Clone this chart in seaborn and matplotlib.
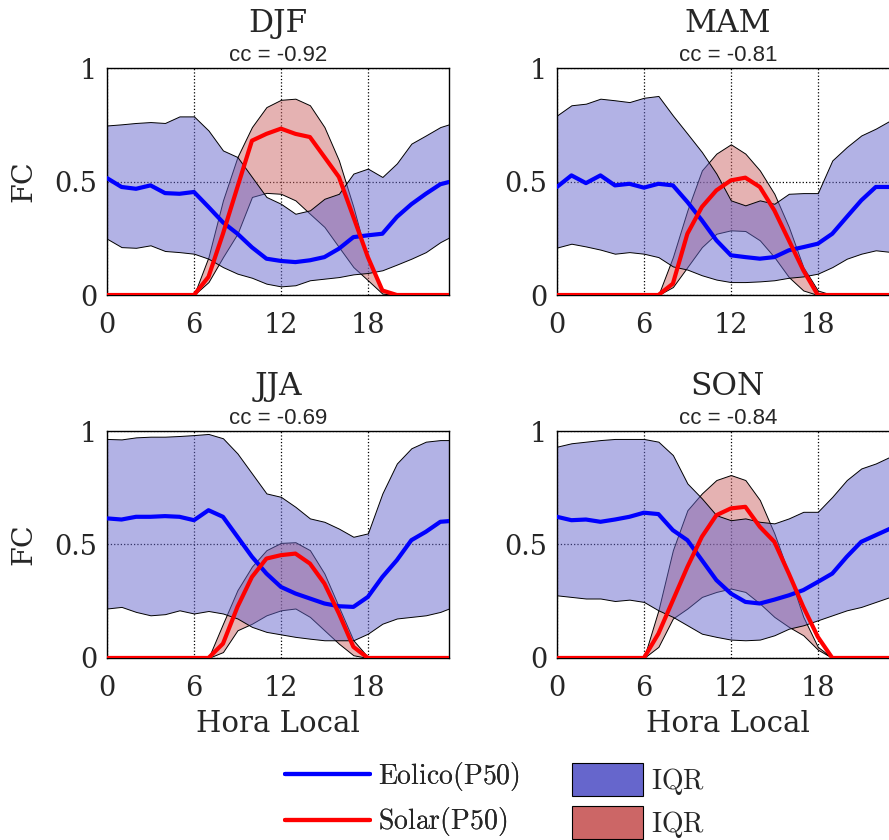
import numpy as np
import pandas as pd
import matplotlib
matplotlib.use("Agg")
import matplotlib.pyplot as plt
import seaborn as sns
from matplotlib.colors import to_rgba
from matplotlib.lines import Line2D
from matplotlib.patches import Patch

# hora local (0..23 + final point)
HORAS = [0, 1, 2, 3, 4, 5, 6, 7, 8, 9, 10, 11, 12, 13, 14, 15, 16, 17, 18, 19, 20, 21, 22, 23, 23.6]

SEASONS = ["DJF", "MAM", "JJA", "SON"]
CC = ["-0.92", "-0.81", "-0.69", "-0.84"]

# Eolico: P50, P25, P75
EOL_P50 = {
    "DJF": [0.515, 0.476, 0.468, 0.483, 0.449, 0.446, 0.454, 0.388, 0.32, 0.27, 0.21, 0.16, 0.15, 0.145,
            0.153, 0.167, 0.204, 0.255, 0.263, 0.27, 0.344, 0.40, 0.446, 0.488, 0.498],
    "MAM": [0.476, 0.527, 0.493, 0.527, 0.483, 0.49, 0.473, 0.49, 0.483, 0.41, 0.329, 0.241, 0.175, 0.167,
            0.16, 0.167, 0.197, 0.211, 0.226, 0.27, 0.344, 0.417, 0.476, 0.476, 0.48],
    "JJA": [0.615, 0.61, 0.622, 0.622, 0.625, 0.622, 0.607, 0.651, 0.622, 0.534, 0.446, 0.372, 0.313, 0.284,
            0.262, 0.24, 0.228, 0.225, 0.269, 0.357, 0.431, 0.519, 0.556, 0.60, 0.603],
    "SON": [0.622, 0.607, 0.61, 0.60, 0.61, 0.622, 0.64, 0.634, 0.563, 0.519, 0.431, 0.343, 0.284, 0.247,
            0.24, 0.257, 0.276, 0.299, 0.335, 0.372, 0.446, 0.512, 0.541, 0.57, 0.58],
}
EOL_P25 = {
    "DJF": [0.248, 0.211, 0.208, 0.219, 0.194, 0.189, 0.182, 0.16, 0.123, 0.094, 0.076, 0.05, 0.038, 0.043,
            0.065, 0.072, 0.079, 0.091, 0.097, 0.109, 0.134, 0.16, 0.189, 0.233, 0.253],
    "MAM": [0.209, 0.226, 0.214, 0.20, 0.182, 0.189, 0.182, 0.167, 0.126, 0.112, 0.087, 0.068, 0.057, 0.057,
            0.06, 0.065, 0.076, 0.082, 0.094, 0.123, 0.16, 0.182, 0.197, 0.19, 0.19],
    "JJA": [0.218, 0.225, 0.203, 0.188, 0.193, 0.21, 0.196, 0.207, 0.196, 0.174, 0.137, 0.115, 0.104, 0.093,
            0.085, 0.078, 0.078, 0.078, 0.107, 0.151, 0.174, 0.181, 0.188, 0.203, 0.218],
    "SON": [0.276, 0.269, 0.262, 0.262, 0.251, 0.257, 0.247, 0.21, 0.181, 0.144, 0.107, 0.093, 0.081, 0.078,
            0.081, 0.10, 0.129, 0.144, 0.166, 0.188, 0.21, 0.225, 0.247, 0.269, 0.275],
}
EOL_P75 = {
    "DJF": [0.747, 0.752, 0.758, 0.762, 0.758, 0.787, 0.787, 0.725, 0.637, 0.608, 0.52, 0.432, 0.402, 0.358,
            0.373, 0.424, 0.446, 0.535, 0.557, 0.52, 0.58, 0.667, 0.703, 0.74, 0.752],
    "MAM": [0.791, 0.836, 0.843, 0.865, 0.858, 0.85, 0.869, 0.877, 0.791, 0.711, 0.63, 0.535, 0.417, 0.395,
            0.417, 0.402, 0.446, 0.449, 0.449, 0.593, 0.652, 0.703, 0.733, 0.769, 0.78],
    "JJA": [0.965, 0.963, 0.972, 0.975, 0.975, 0.978, 0.982, 0.987, 0.968, 0.901, 0.813, 0.725, 0.71, 0.666,
            0.615, 0.60, 0.57, 0.534, 0.549, 0.725, 0.857, 0.924, 0.953, 0.96, 0.96],
    "SON": [0.931, 0.946, 0.953, 0.96, 0.965, 0.965, 0.965, 0.953, 0.894, 0.769, 0.703, 0.629, 0.607, 0.615,
            0.60, 0.593, 0.615, 0.644, 0.644, 0.71, 0.784, 0.835, 0.857, 0.887, 0.895],
}

# Solar: P50, P25, P75
SOL_P50 = {
    "DJF": [0, 0, 0, 0, 0, 0, 0, 0.08, 0.27, 0.476, 0.68, 0.71, 0.733, 0.71, 0.696, 0.608, 0.52, 0.344,
            0.167, 0.02, 0, 0, 0, 0, 0],
    "MAM": [0, 0, 0, 0, 0, 0, 0, 0, 0.05, 0.27, 0.388, 0.461, 0.505, 0.517, 0.476, 0.373, 0.241, 0.109,
            0, 0, 0, 0, 0, 0, 0],
    "JJA": [0, 0, 0, 0, 0, 0, 0, 0, 0.063, 0.225, 0.357, 0.438, 0.453, 0.46, 0.416, 0.328, 0.196, 0.049,
            0, 0, 0, 0, 0, 0, 0],
    "SON": [0, 0, 0, 0, 0, 0, 0, 0.107, 0.254, 0.401, 0.534, 0.629, 0.659, 0.666, 0.578, 0.512, 0.372, 0.225,
            0.093, 0, 0, 0, 0, 0, 0],
}
SOL_P25 = {
    "DJF": [0, 0, 0, 0, 0, 0, 0, 0.057, 0.167, 0.27, 0.432, 0.45, 0.446, 0.417, 0.358, 0.30, 0.211, 0.123,
            0.065, 0.006, 0, 0, 0, 0, 0],
    "MAM": [0, 0, 0, 0, 0, 0, 0, 0, 0.035, 0.123, 0.211, 0.27, 0.285, 0.282, 0.241, 0.167, 0.079, 0.02,
            0, 0, 0, 0, 0, 0, 0],
    "JJA": [0, 0, 0, 0, 0, 0, 0, 0, 0.026, 0.122, 0.151, 0.188, 0.21, 0.218, 0.181, 0.122, 0.063, 0.012,
            0, 0, 0, 0, 0, 0, 0],
    "SON": [0, 0, 0, 0, 0, 0, 0, 0.049, 0.174, 0.218, 0.269, 0.291, 0.306, 0.291, 0.24, 0.181, 0.137, 0.10,
            0.037, 0, 0, 0, 0, 0, 0],
}
SOL_P75 = {
    "DJF": [0, 0, 0, 0, 0, 0, 0, 0.167, 0.417, 0.608, 0.74, 0.828, 0.86, 0.865, 0.836, 0.74, 0.593, 0.388,
            0.153, 0.02, 0, 0, 0, 0, 0],
    "MAM": [0, 0, 0, 0, 0, 0, 0, 0, 0.167, 0.373, 0.549, 0.623, 0.664, 0.623, 0.549, 0.446, 0.30, 0.123,
            0.02, 0, 0, 0, 0, 0, 0],
    "JJA": [0, 0, 0, 0, 0, 0, 0, 0, 0.151, 0.299, 0.403, 0.475, 0.507, 0.51, 0.475, 0.372, 0.225, 0.078,
            0.004, 0, 0, 0, 0, 0, 0],
    "SON": [0, 0, 0, 0, 0, 0, 0, 0.21, 0.475, 0.651, 0.725, 0.784, 0.806, 0.784, 0.696, 0.549, 0.372, 0.181,
            0.049, 0, 0, 0, 0, 0, 0],
}

BLUE_FILL = "#6666CC"
RED_FILL = "#CC6666"

sns.set_style("white")
plt.rcParams["font.family"] = ["DejaVu Serif"]
plt.rcParams["mathtext.fontset"] = "cm"

fig = plt.figure(figsize=(8.89, 8.40), dpi=100)

# axes boxes (left, bottom) in figure fraction
positions = [(0.1204, 0.6488), (0.6265, 0.6488), (0.1204, 0.2167), (0.6265, 0.2167)]

for i, season in enumerate(SEASONS):
    ax = fig.add_axes([positions[i][0], positions[i][1], 0.3847, 0.2702])
    df = pd.DataFrame({
        "hora": HORAS,
        "eol": EOL_P50[season], "eol_lo": EOL_P25[season], "eol_hi": EOL_P75[season],
        "sol": SOL_P50[season], "sol_lo": SOL_P25[season], "sol_hi": SOL_P75[season],
    })

    # IQR bands: semi-transparent face, solid black outline
    ax.fill_between(df["hora"], df["sol_lo"], df["sol_hi"], facecolor=to_rgba(RED_FILL, 0.5),
                    edgecolor="k", linewidth=0.7, zorder=2)
    ax.fill_between(df["hora"], df["eol_lo"], df["eol_hi"], facecolor=to_rgba(BLUE_FILL, 0.5),
                    edgecolor="k", linewidth=0.7, zorder=2)
    sns.lineplot(data=df, x="hora", y="eol", ax=ax, color="b", linewidth=3, zorder=3)
    sns.lineplot(data=df, x="hora", y="sol", ax=ax, color="r", linewidth=3, zorder=4)

    ax.set_xlim(0, 23.6)
    ax.set_ylim(0, 1)
    ax.set_xticks([0, 6, 12, 18])
    ax.set_yticks([0, 0.5, 1])
    ax.set_yticklabels(["0", "0.5", "1"])
    ax.tick_params(length=0, labelsize=19.5)
    ax.tick_params(axis="x", pad=12)
    ax.tick_params(axis="y", pad=7)
    ax.grid(True, linestyle=":", color="k", linewidth=0.9)
    ax.set_axisbelow(True)
    for sp in ax.spines.values():
        sp.set_color("k")
        sp.set_linewidth(1)

    ax.set_ylabel("FC" if i % 2 == 0 else "", fontsize=20.5, labelpad=12)
    ax.set_xlabel("Hora Local" if i >= 2 else "", fontsize=21, labelpad=6)

    ax.text(0.5, 1.198, season, transform=ax.transAxes, ha="center", va="center", fontsize=22.5)
    ax.text(0.5, 1.057, "cc = " + CC[i], transform=ax.transAxes, ha="center", va="center",
            fontsize=16, family="Liberation Sans")

line_handles = [Line2D([], [], color="b", linewidth=3), Line2D([], [], color="r", linewidth=3)]
leg1 = fig.legend(line_handles, [r"$\mathrm{Eolico(P50)}$", r"$\mathrm{Solar(P50)}$"],
                  loc="upper left", bbox_to_anchor=(285 / 889, 1 - 760 / 840), frameon=False,
                  fontsize=20, handlelength=3.06, handletextpad=0.3, labelspacing=0.45,
                  borderpad=0, borderaxespad=0)
patch_handles = [Patch(facecolor=BLUE_FILL, edgecolor="k", linewidth=0.8),
                 Patch(facecolor=RED_FILL, edgecolor="k", linewidth=0.8)]
leg2 = fig.legend(patch_handles, [r"$\mathrm{IQR}$", r"$\mathrm{IQR}$"],
                  loc="upper left", bbox_to_anchor=(572 / 889, 1 - 763 / 840), frameon=False,
                  fontsize=20, handlelength=2.55, handleheight=1.45, handletextpad=0.3,
                  labelspacing=0.35, borderpad=0, borderaxespad=0)
fig.add_artist(leg1)

fig.savefig("out.png", dpi=100)
